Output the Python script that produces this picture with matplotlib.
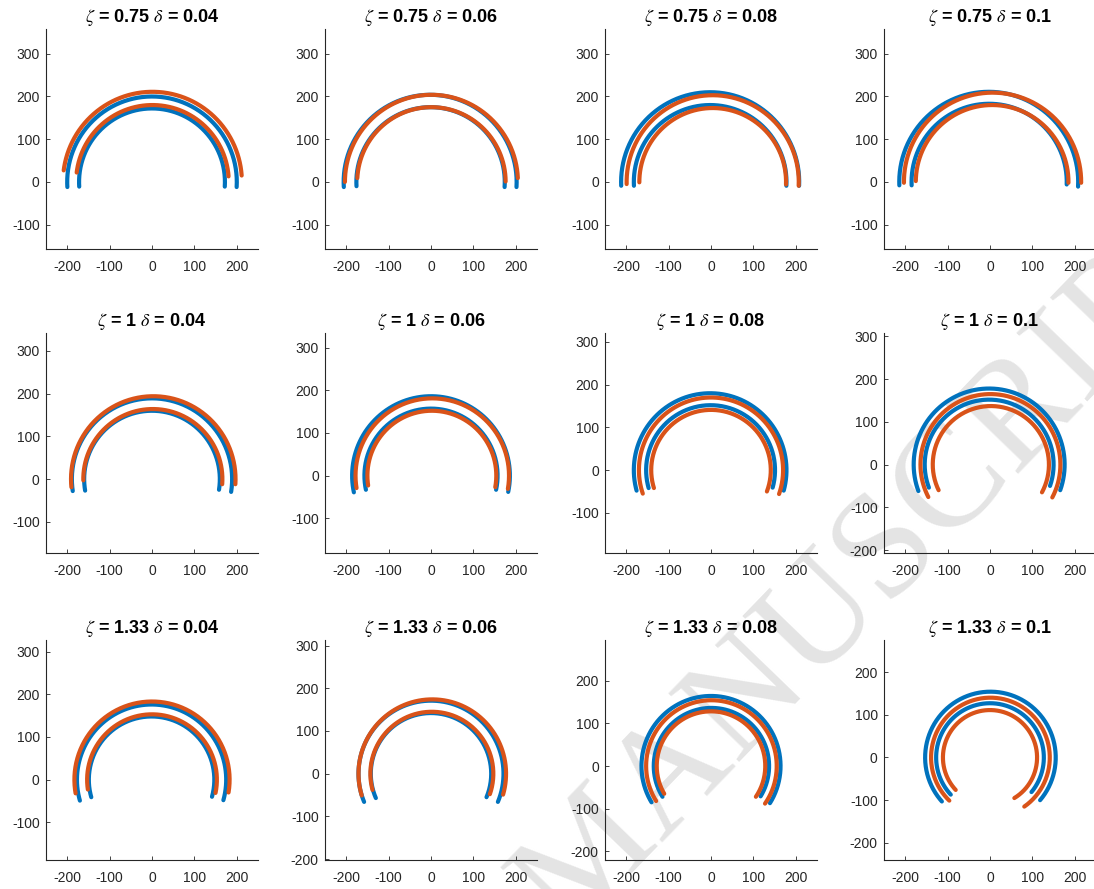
import numpy as np
import matplotlib
matplotlib.use('Agg')
import matplotlib.pyplot as plt
from matplotlib.ticker import MultipleLocator

plt.rcParams['font.family'] = 'Liberation Sans'
plt.rcParams['mathtext.fontset'] = 'stix'
plt.rcParams['axes.unicode_minus'] = False

# panel parameters
zeta = ['0.75', '1', '1.33']
delta = ['0.04', '0.06', '0.08', '0.1']

# lower y limit of each panel (row by row); the span is the same everywhere
ylow = [-157, -157, -157, -157,
        -173, -181, -194, -207,
        -188, -202, -220, -240]

# arcs: [outer, inner] for each panel
# cx = centre x, r = radius, yL / yR = height of left / right end
blue_cx = [[0, 0], [-2, -1], [-2, -2], [-3, -2],
           [0, 0], [0, 0], [-2, -1], [-2, -2],
           [-1, -1], [0, 0], [0, 1], [1, 0]]
blue_r = [[200, 172], [204, 175], [210, 180], [211, 183],
          [189, 160], [186, 157], [180, 152], [178, 152],
          [176, 148], [171, 142], [164, 136], [154, 127]]
blue_yL = [[-12, -11], [-12, -10], [-9, -9], [-8, -8],
           [-28, -27], [-39, -33], [-48, -42], [-62, -54],
           [-49, -41], [-66, -57], [-85, -72], [-103, -87]]
blue_yR = [[-12, -11], [-12, -12], [-9, -9], [-11, -6],
           [-30, -25], [-38, -33], [-48, -41], [-60, -50],
           [-48, -40], [-66, -55], [-87, -71], [-100, -81]]

orange_cx = [[1, 1], [1, 1], [4, 4], [6, 5],
             [3, 2], [3, 2], [0, 0], [1, 2],
             [0, 0], [3, 2], [1, 0], [1, 0]]
orange_r = [[211, 180], [204, 175], [203, 173], [209, 180],
            [194, 164], [181, 152], [170, 141], [165, 137],
            [183, 153], [174, 145], [154, 128], [140, 111]]
orange_yL = [[27, 22], [0, 9], [-5, -1], [-2, 2],
             [-19, -3], [-29, -23], [-55, -42], [-76, -60],
             [-32, -23], [-51, -38], [-82, -65], [-101, -76]]
orange_yR = [[15, 13], [9, 1], [-9, -6], [-2, -2],
             [-12, -12], [-31, -27], [-56, -50], [-77, -65],
             [-30, -31], [-49, -48], [-88, -72], [-115, -95]]

blue = '#0072BD'
orange = '#D95319'


def arc(cx, r, yl, yr):
    t0 = np.arcsin(np.clip(yr / r, -1, 1))
    t1 = np.pi - np.arcsin(np.clip(yl / r, -1, 1))
    t = np.linspace(t0, t1, 300)
    return cx + r * np.cos(t), r * np.sin(t)


fig = plt.figure(figsize=(10.94, 8.89), dpi=100)

# watermark behind the axes
fig.text(0.545, 0.035, 'ACCEPTED MANUSCRIPT', fontsize=108, family='Liberation Serif',
         color='#e4e4e4', rotation=46, rotation_mode='anchor',
         ha='center', va='center', zorder=-5)

lefts = [46, 325, 605, 884]
tops = [29, 333, 640]
W, H = 212, 220

for i in range(12):
    row, col = divmod(i, 4)
    ax = fig.add_axes([lefts[col] / 1094, 1 - (tops[row] + H) / 889, W / 1094, H / 889])
    ax.set_facecolor('none')
    for k in range(2):
        x, y = arc(blue_cx[i][k], blue_r[i][k], blue_yL[i][k], blue_yR[i][k])
        ax.plot(x, y, color=blue, lw=3, solid_capstyle='round')
    for k in range(2):
        x, y = arc(orange_cx[i][k], orange_r[i][k], orange_yL[i][k], orange_yR[i][k])
        ax.plot(x, y, color=orange, lw=3, solid_capstyle='round')
    ax.set_xlim(-250, 250)
    ax.set_ylim(ylow[i], ylow[i] + 515)
    ax.yaxis.set_major_locator(MultipleLocator(100))
    ax.set_xticks([-200, -100, 0, 100, 200])
    ax.spines['top'].set_visible(False)
    ax.spines['right'].set_visible(False)
    for s in ('left', 'bottom'):
        ax.spines[s].set_color('#262626')
        ax.spines[s].set_linewidth(0.8)
    ax.tick_params(direction='in', length=3, width=0.6, colors='#262626',
                   labelsize=10)
    ax.tick_params(axis='x', pad=8)
    ax.tick_params(axis='y', pad=4.5)
    ax.set_title(r'$\zeta$ = %s $\delta$ = %s' % (zeta[row], delta[col]),
                 fontsize=13, fontweight='bold', pad=5)

fig.savefig('out.png', dpi=100)
